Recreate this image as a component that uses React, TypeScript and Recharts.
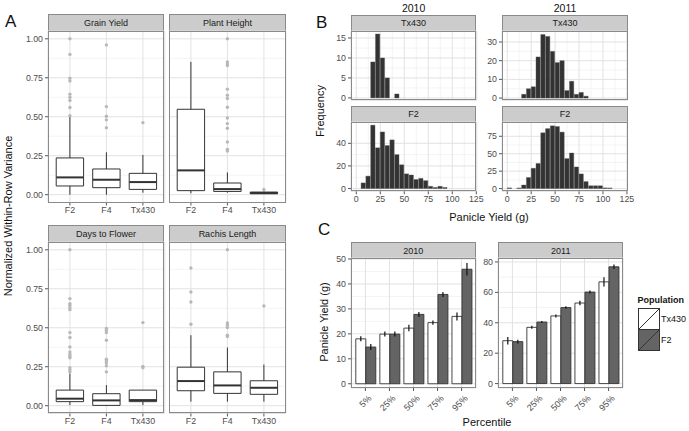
import React from 'react';
import {
  BarChart, Bar, ComposedChart, Scatter, XAxis, YAxis, CartesianGrid,
  ReferenceArea, ReferenceLine, ErrorBar,
} from 'recharts';

const FONT = '"Liberation Sans", Arial, Helvetica, sans-serif';
const INK = '#333333';
const FRAME = '#8a8a8a';
const MAJOR = '#e2e2e2';
const MINOR = '#f4f4f4';
const tickStyle = { fontSize: 8.8, fill: '#4d4d4d', fontFamily: FONT };
const tickLine = { stroke: '#555' };
// room around each plot so edge tick labels are not clipped
const PAD = 8;
const MARGIN = { top: PAD, right: PAD, bottom: PAD, left: 0 };

// ---- A: within-row variance boxplots ----
const groups = ['F2', 'F4', 'Tx430'];
const boxTicks = [0, 0.25, 0.5, 0.75, 1];
// per group: lower whisker, q1, median, q3, upper whisker
const grainYieldBox = [[0, 0.056, 0.111, 0.236, 0.5], [0, 0.045, 0.096, 0.165, 0.272], [0.013, 0.034, 0.081, 0.137, 0.255]];
const grainYieldOut = [[1.0, 0.9, 0.747, 0.73, 0.645, 0.625, 0.604, 0.559, 0.507], [0.961, 0.565, 0.503, 0.48, 0.43], [0.462]];
const plantHeightBox = [[0.009, 0.026, 0.156, 0.548, 0.852], [0.013, 0.021, 0.036, 0.075, 0.143], [0.004, 0.006, 0.011, 0.017, 0.02]];
const plantHeightOut = [[], [1.0, 0.852, 0.839, 0.829, 0.677, 0.638, 0.617, 0.561, 0.492, 0.456, 0.426, 0.338, 0.291, 0.28], [0.034]];
const daysFlowerBox = [[0.004, 0.026, 0.045, 0.1, 0.207], [0, 0.002, 0.034, 0.077, 0.132], [0.004, 0.026, 0.036, 0.1, 0.1]];
const daysFlowerOut = [[1.0, 0.687, 0.655, 0.644, 0.629, 0.616, 0.469, 0.437, 0.377, 0.345, 0.328, 0.316, 0.307, 0.243, 0.23, 0.217], [0.495, 0.484, 0.469, 0.42, 0.298, 0.288, 0.275, 0.256, 0.217], [0.533, 0.252, 0.243]];
const rachisBox = [[0.026, 0.096, 0.158, 0.247, 0.452], [0.026, 0.079, 0.13, 0.217, 0.373], [0.026, 0.073, 0.115, 0.16, 0.264]];
const rachisOut = [[0.883, 0.729, 0.665, 0.522], [1.0, 0.531, 0.516, 0.501, 0.452, 0.444], [0.64]];

// ---- B: panicle yield histograms (5 g bins) ----
const binWidth = 5;
const binStarts = [0, 5, 10, 15, 20, 25, 30, 35, 40, 45, 50, 55, 60, 65, 70, 75, 80, 85, 90, 95, 100, 105, 110];
const tx430Hist2010 = [0, 0, 0, 9, 16, 10, 5, 0, 1, 0, 0, 0, 0, 0, 0, 0, 0, 0, 0, 0, 0, 0, 0];
const tx430Hist2011 = [0, 0, 0, 2, 5, 6, 22, 34, 33, 25, 19, 20, 4, 9, 2, 3, 1, 0, 0, 0, 0, 0, 0];
const f2Hist2010 = [0, 5, 11, 56, 36, 50, 38, 43, 30, 21, 13, 12, 8, 9, 7, 2, 1, 2, 1, 0, 0, 0, 0];
const f2Hist2011 = [1, 0, 1, 5, 16, 29, 36, 80, 86, 90, 89, 81, 43, 51, 31, 21, 10, 4, 4, 4, 1, 1, 0];
const histXTicks = [0, 25, 50, 75, 100, 125];

// ---- C: percentiles ----
const percentiles = ['5%', '25%', '50%', '75%', '95%'];
const tx430Pct2010 = [18.0, 19.9, 22.3, 24.5, 27.0];
const tx430Err2010 = [1.0, 1.0, 1.3, 0.9, 1.6];
const f2Pct2010 = [14.7, 19.9, 27.8, 35.8, 45.9];
const f2Err2010 = [1.2, 1.0, 1.0, 1.0, 2.5];
const tx430Pct2011 = [28.2, 37.0, 44.5, 53.0, 66.9];
const tx430Err2011 = [2.5, 1.0, 1.0, 1.5, 3.0];
const f2Pct2011 = [27.6, 40.5, 50.0, 60.2, 76.8];
const f2Err2011 = [1.2, 0.7, 0.8, 1.0, 1.5];

const mids = (t: number[]) => t.slice(1).map((v, i) => (v + t[i]) / 2);

function Txt({ x, y, size, children, rotate, bold, left }: any) {
  return (
    <div style={{
      position: 'absolute', left: x, top: y, fontSize: size, whiteSpace: 'nowrap', lineHeight: 1,
      fontWeight: bold ? 'bold' : 'normal', color: '#111',
      transform: `translate(${left ? '0' : '-50%'},-50%)${rotate ? ' rotate(-90deg)' : ''}`,
    }}>{children}</div>
  );
}

function Facet({ x, y, w, h, strip, stripH, yw, children }: any) {
  return (
    <>
      <div style={{
        position: 'absolute', left: x, top: y - stripH, width: w, height: stripH + 1, background: '#cccccc',
        border: `1px solid ${FRAME}`, boxSizing: 'border-box', fontSize: 9, color: '#1a1a1a',
        display: 'flex', alignItems: 'center', justifyContent: 'center',
      }}>{strip}</div>
      <div style={{ position: 'absolute', left: x - yw, top: y - PAD }}>{children}</div>
      <div style={{
        position: 'absolute', left: x, top: y, width: w, height: h,
        border: `1px solid ${FRAME}`, boxSizing: 'border-box', pointerEvents: 'none',
      }} />
    </>
  );
}

const outlierDot = (p: any) => <circle cx={p.cx} cy={p.cy} r={1.7} fill="#b8b8b8" />;

function BoxPanel({ stats, outliers, w, h, yw, xh }: any) {
  const pts = outliers.flatMap((vals: number[], i: number) => vals.map((v) => ({ x: i + 1, y: v })));
  const half = 0.375;
  return (
    <ComposedChart width={w + yw + PAD} height={h + xh + 2 * PAD} data={pts} margin={MARGIN}>
      <CartesianGrid stroke={MINOR} vertical={false} horizontalValues={mids(boxTicks)} />
      <CartesianGrid stroke={MAJOR} />
      <XAxis type="number" dataKey="x" domain={[0.4, 3.6]} ticks={[1, 2, 3]} interval={0}
        tickFormatter={(v: number) => groups[v - 1]} height={xh} tick={tickStyle}
        tickSize={3} tickMargin={1} axisLine={false} tickLine={tickLine} />
      <YAxis type="number" dataKey="y" domain={[-0.05, 1.05]} ticks={boxTicks} interval={0}
        tickFormatter={(v: number) => v.toFixed(2)} width={yw} hide={yw === 0} tick={tickStyle}
        tickSize={3} tickMargin={2} axisLine={false} tickLine={tickLine} />
      {stats.map((s: number[], i: number) => {
        const [lo, q1, md, q3, hi] = s;
        const c = i + 1;
        return (
          <React.Fragment key={i}>
            <ReferenceArea x1={c - half} x2={c + half} y1={q1} y2={q3} fill="#fff" fillOpacity={1} stroke={INK} strokeWidth={1} />
            <ReferenceLine segment={[{ x: c, y: q3 }, { x: c, y: hi }]} stroke={INK} />
            <ReferenceLine segment={[{ x: c, y: lo }, { x: c, y: q1 }]} stroke={INK} />
            <ReferenceLine segment={[{ x: c - half, y: md }, { x: c + half, y: md }]} stroke={INK} strokeWidth={2} />
          </React.Fragment>
        );
      })}
      <Scatter dataKey="y" isAnimationActive={false} shape={outlierDot} />
    </ComposedChart>
  );
}

function HistPanel({ counts, w, h, yw, xh, yDomain, yTicks, showX }: any) {
  const data = binStarts
    .map((s, i) => ({ x: s + binWidth / 2, n: counts[i] }))
    .filter((d) => d.n > 0);
  return (
    <BarChart width={w + yw + PAD} height={h + (showX ? xh : 0) + 2 * PAD} data={data} margin={MARGIN}>
      <CartesianGrid stroke={MINOR} horizontalValues={mids(yTicks)} verticalValues={mids(histXTicks)} />
      <CartesianGrid stroke={MAJOR} />
      <XAxis type="number" dataKey="x" domain={[-5.5, 125.5]} ticks={histXTicks} interval={0}
        hide={!showX} height={xh} tick={tickStyle} tickSize={3} tickMargin={1}
        axisLine={false} tickLine={tickLine} />
      <YAxis type="number" domain={yDomain} ticks={yTicks} interval={0} width={yw} tick={tickStyle}
        tickSize={3} tickMargin={2} axisLine={false} tickLine={tickLine} />
      <Bar dataKey="n" fill="#333" stroke="#5c5c5c" strokeWidth={0.4}
        barSize={(w * binWidth) / 131} isAnimationActive={false} />
    </BarChart>
  );
}

const pctTick = (p: any) => (
  <text x={p.x + 3} y={p.y + 2} transform={`rotate(-45 ${p.x + 3} ${p.y + 2})`} textAnchor="end"
    dy="0.6em" fontSize={9} fill="#4d4d4d" fontFamily={FONT}>{p.payload.value}</text>
);

function PctPanel({ tx, txErr, f2, f2Err, w, h, yw, xh, yDomain, yTicks }: any) {
  const data = percentiles.map((p, i) => ({ p, tx: tx[i], txErr: txErr[i], f2: f2[i], f2Err: f2Err[i] }));
  return (
    <BarChart width={w + yw + PAD} height={h + xh + 2 * PAD} data={data} margin={MARGIN} barCategoryGap="10%" barGap={0}>
      <CartesianGrid stroke={MINOR} vertical={false} horizontalValues={mids(yTicks)} />
      <CartesianGrid stroke={MAJOR} />
      <XAxis dataKey="p" interval={0} padding={{ left: 2.4, right: 2.4 }} height={xh} tick={pctTick}
        tickSize={3} tickMargin={2} axisLine={false} tickLine={tickLine} />
      <YAxis type="number" domain={yDomain} ticks={yTicks} interval={0} width={yw} tick={tickStyle}
        tickSize={3} tickMargin={2} axisLine={false} tickLine={tickLine} />
      <Bar dataKey="tx" fill="#fff" stroke={INK} strokeWidth={0.9} isAnimationActive={false}>
        <ErrorBar dataKey="txErr" width={0} stroke="#111" strokeWidth={1.2} />
      </Bar>
      <Bar dataKey="f2" fill="#646464" stroke={INK} strokeWidth={0.9} isAnimationActive={false}>
        <ErrorBar dataKey="f2Err" width={0} stroke="#111" strokeWidth={1.2} />
      </Bar>
    </BarChart>
  );
}

function LegendKey({ x, y, fill }: any) {
  return (
    <svg style={{ position: 'absolute', left: x, top: y }} width={22} height={22}>
      <rect x={0.5} y={0.5} width={21} height={21} fill={fill} stroke={INK} />
      <line x1={1} y1={21} x2={21} y2={1} stroke={INK} strokeWidth={1} />
    </svg>
  );
}

export default function App() {
  // panel A geometry
  const aCols = [47.7, 169];
  const aRows = [31.3, 241.7];
  const aW = 116.8;
  const aH = 171.5;
  // panel B geometry
  const bCols = [{ x: 350.7, w: 125.8 }, { x: 502.4, w: 125.4 }];
  const bRows = [30.7, 121.7];
  const bH = 69.3;
  // panel C geometry
  const cCols = [350.7, 498.3];
  const cY = 258.3;
  const cW = 125;
  const cH = 130;

  const aFacets = [
    { s: grainYieldBox, o: grainYieldOut, label: 'Grain Yield', r: 0, c: 0 },
    { s: plantHeightBox, o: plantHeightOut, label: 'Plant Height', r: 0, c: 1 },
    { s: daysFlowerBox, o: daysFlowerOut, label: 'Days to Flower', r: 1, c: 0 },
    { s: rachisBox, o: rachisOut, label: 'Rachis Length', r: 1, c: 1 },
  ];

  const bFacets = [
    { counts: tx430Hist2010, label: 'Tx430', r: 0, c: 0, dom: [-0.6, 16.75], ticks: [0, 5, 10, 15] },
    { counts: tx430Hist2011, label: 'Tx430', r: 0, c: 1, dom: [-1.2, 35.9], ticks: [0, 10, 20, 30] },
    { counts: f2Hist2010, label: 'F2', r: 1, c: 0, dom: [-2.4, 58.8], ticks: [0, 20, 40] },
    { counts: f2Hist2011, label: 'F2', r: 1, c: 1, dom: [-3.9, 95.5], ticks: [0, 25, 50, 75] },
  ];

  return (
    <div style={{ position: 'absolute', left: 0, top: 0, width: 689, height: 431, background: '#fff', fontFamily: FONT, overflow: 'hidden' }}>
      <Txt x={5} y={21} size={17} left>A</Txt>
      <Txt x={316} y={22} size={17} left>B</Txt>
      <Txt x={318} y={229} size={17} left>C</Txt>

      {aFacets.map((f, i) => (
        <Facet key={'a' + i} x={aCols[f.c]} y={aRows[f.r]} w={aW} h={aH} strip={f.label} stripH={17} yw={f.c === 0 ? 26 : 0}>
          <BoxPanel stats={f.s} outliers={f.o} w={aW} h={aH} yw={f.c === 0 ? 26 : 0} xh={16} />
        </Facet>
      ))}
      <Txt x={8} y={216} size={11} rotate>Normalized Within-Row Variance</Txt>

      <Txt x={413.6} y={7.5} size={10.5}>2010</Txt>
      <Txt x={565} y={7.5} size={10.5}>2011</Txt>
      {bFacets.map((f, i) => {
        const col = bCols[f.c];
        const yw = f.c === 0 ? 18 : 20;
        return (
          <Facet key={'b' + i} x={col.x} y={bRows[f.r]} w={col.w} h={bH} strip={f.label} stripH={16} yw={yw}>
            <HistPanel counts={f.counts} w={col.w} h={bH} yw={yw} xh={16} yDomain={f.dom} yTicks={f.ticks} showX={f.r === 1} />
          </Facet>
        );
      })}
      <Txt x={320} y={111} size={11} rotate>Frequency</Txt>
      <Txt x={489} y={217} size={11}>Panicle Yield (g)</Txt>

      <Facet x={cCols[0]} y={cY} w={cW} h={cH} strip="2010" stripH={16.5} yw={18}>
        <PctPanel tx={tx430Pct2010} txErr={tx430Err2010} f2={f2Pct2010} f2Err={f2Err2010}
          w={cW} h={cH} yw={18} xh={30} yDomain={[-1.7, 50.4]} yTicks={[0, 10, 20, 30, 40, 50]} />
      </Facet>
      <Facet x={cCols[1]} y={cY} w={cW} h={cH} strip="2011" stripH={16.5} yw={20}>
        <PctPanel tx={tx430Pct2011} txErr={tx430Err2011} f2={f2Pct2011} f2Err={f2Err2011}
          w={cW} h={cH} yw={20} xh={30} yDomain={[-2.9, 82.6]} yTicks={[0, 20, 40, 60, 80]} />
      </Facet>
      <Txt x={324} y={322} size={11} rotate>Panicle Yield (g)</Txt>
      <Txt x={487} y={422} size={11}>Percentile</Txt>

      <Txt x={637.5} y={300} size={9} bold left>Population</Txt>
      <LegendKey x={637.5} y={308} fill="#fff" />
      <LegendKey x={637.5} y={329} fill="#646464" />
      <Txt x={661} y={318.5} size={9} left>Tx430</Txt>
      <Txt x={661} y={339.5} size={9} left>F2</Txt>
    </div>
  );
}
